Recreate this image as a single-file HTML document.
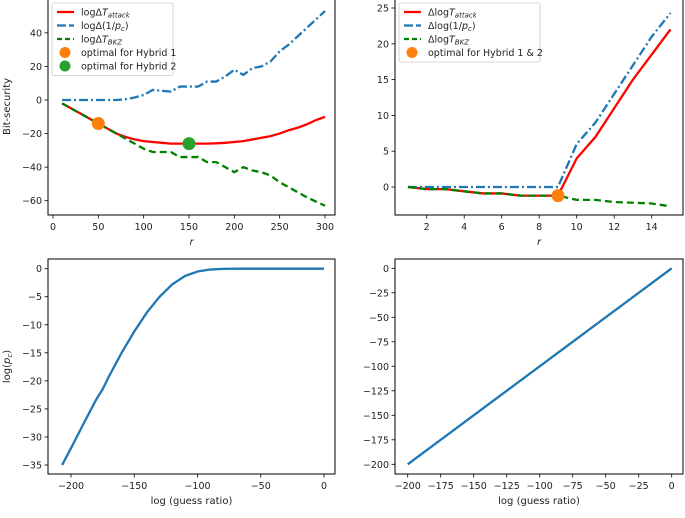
<!DOCTYPE html>
<html><head><meta charset="utf-8"><style>
body{margin:0;background:#fff;}
svg{font-family:"DejaVu Sans","Liberation Sans",sans-serif;}
</style></head><body>
<svg id="c" width="685" height="513" xmlns="http://www.w3.org/2000/svg"></svg>
<script>
const rA=[10,20,30,40,50,60,70,80,90,100,110,120,130,140,150,160,170,180,190,200,210,220,230,240,250,260,270,280,290,300];
const attackA=[-2,-5,-8,-11,-14,-17,-20,-22,-23.5,-24.5,-25,-25.5,-26,-26,-26,-26,-26,-25.8,-25.5,-25,-24.5,-23.5,-22.5,-21.5,-20,-18,-16.5,-14.5,-12,-10];
const pcA=[0,0,0,0,0,0,0,0.5,1.5,3,6,5.5,5,8,8,8,11,11,14,18,15,19,20,23,29,33,38,43,48,53];
const bkzA=[-2,-5,-8,-11,-14,-17,-20,-23,-26,-29,-31,-31,-31,-34,-34,-34,-37,-37,-40,-43,-40,-42,-43,-45,-49,-52,-55,-58,-60.5,-63];
const opt1=[50,-14], opt2=[150,-26];
const rB=[1,2,3,4,5,6,7,8,9,10,11,12,13,14,15];
const attackB=[0,-0.3,-0.3,-0.6,-0.9,-0.9,-1.2,-1.2,-1.2,4,7,11,15,18.5,22];
const pcB=[0,0,0,0,0,0,0,0,0,6,9,13,17,21,24.3];
const bkzB=[0,-0.3,-0.3,-0.6,-0.9,-0.9,-1.2,-1.2,-1.2,-1.8,-1.8,-2.1,-2.2,-2.3,-2.7];
const optB=[9,-1.2];
const gC=[-207,-200,-190,-180,-175,-170,-160,-150,-140,-130,-120,-110,-100,-90,-80,-70,-40,0];
const pC=[-35,-32,-27.6,-23.3,-21.5,-19.2,-15,-11.2,-7.8,-5,-2.8,-1.3,-0.5,-0.15,-0.03,0,0,0];
const gD=[-200,0];
const pD=[-200,0];
const ticksAx=[0,50,100,150,200,250,300], ticksAy=[40,20,0,-20,-40,-60];
const ticksBx=[2,4,6,8,10,12,14], ticksBy=[25,20,15,10,5,0];
const ticksCx=[-200,-150,-100,-50,0], ticksCy=[0,-5,-10,-15,-20,-25,-30,-35];
const ticksDx=[-200,-175,-150,-125,-100,-75,-50,-25,0], ticksDy=[0,-25,-50,-75,-100,-125,-150,-175,-200];

const svg=document.getElementById('c');const NS='http://www.w3.org/2000/svg';
function el(t,a,p){const e=document.createElementNS(NS,t);for(const k in a)e.setAttribute(k,a[k]);(p||svg).appendChild(e);return e;}
function lin(d0,d1,p0,p1){return v=>p0+(v-d0)*(p1-p0)/(d1-d0);}
function fmt(v){return v<0?'\u2212'+(-v):''+v;}
function axes(name,box,sx,sy,tx,ty,xl,yl){
  const g=el('g',{});
  tx.forEach(v=>{const x=sx(v);el('line',{x1:x,x2:x,y1:box[3],y2:box[3]+3.5,stroke:'#000','stroke-width':0.8},g);
    const t=el('text',{x:x,y:box[3]+15,'font-size':9.5,'text-anchor':'middle',fill:'#222'},g);t.textContent=fmt(v);
    });
  ty.forEach(v=>{const y=sy(v);el('line',{x1:box[0]-3.5,x2:box[0],y1:y,y2:y,stroke:'#000','stroke-width':0.8},g);
    const t=el('text',{x:box[0]-6,y:y+3.5,'font-size':9.5,'text-anchor':'end',fill:'#222'},g);t.textContent=fmt(v);
    });
  if(xl){const t=el('text',{x:(box[0]+box[2])/2,y:box[3]+30,'font-size':10,'text-anchor':'middle',fill:'#222'},g);t.innerHTML=xl;
    }
  if(yl){const cy=(box[1]+box[3])/2;const t=el('text',{x:0,y:0,'font-size':10,'text-anchor':'middle',fill:'#222',transform:`translate(10,${cy}) rotate(-90)`},g);t.innerHTML=yl;
    }
  return g;
}
function frame(box){const r=el('rect',{x:box[0],y:box[1],width:box[2]-box[0],height:box[3]-box[1],fill:'none',stroke:'#000','stroke-width':1});
  }
function line(xs,ys,sx,sy,col,dash,name){const p=el('polyline',{points:xs.map((x,i)=>sx(x)+','+sy(ys[i])).join(' '),fill:'none',stroke:col,'stroke-width':2.3,'stroke-dasharray':dash||'none'});
  }
function dot(pt,sx,sy,col,name){const c=el('circle',{cx:sx(pt[0]),cy:sy(pt[1]),r:6.5,fill:col});}
const RED='#f00',BLUE='#1f77b4',GREEN='#008000',ORANGE='#ff7f0e',GD='#2ca02c';
const DD='9,3,2,3',DS='7,4';
function legend(x,y,w,items){const g=el('g',{});
  el('rect',{x:x,y:y,width:w,height:items.length*13.5+5,fill:'#fff',stroke:'#ccc','stroke-width':0.8,rx:2},g);
  items.forEach((it,i)=>{const cy=y+9+i*13.5;
    if(it.dot)el('circle',{cx:x+13,cy:cy,r:5.5,fill:it.col},g);
    else el('line',{x1:x+5,x2:x+22,y1:cy,y2:cy,stroke:it.col,'stroke-width':2.3,'stroke-dasharray':it.dash||'none'},g);
    const t=el('text',{x:x+29,y:cy+3.5,'font-size':9.5,fill:'#222'},g);t.innerHTML=it.label;
    });}

// A
let box=[48,-2,335,215];
let sx=lin(0,300,53,325), sy=lin(0,-60,100,200.7);
axes('top-left-axes',box,sx,sy,ticksAx,ticksAy,'<tspan font-style="italic">r</tspan>','Bit-security');
line(rA,attackA,sx,sy,RED,null,'attack-line-a');line(rA,pcA,sx,sy,BLUE,DD,'pc-line-a');line(rA,bkzA,sx,sy,GREEN,DS,'bkz-line-a');
dot(opt1,sx,sy,ORANGE,'optimal-hybrid-1');dot(opt2,sx,sy,GD,'optimal-hybrid-2');frame(box);
legend(52,3,121,[{col:RED,label:'logΔ<tspan font-style="italic">T</tspan><tspan font-style="italic" font-size="7" dy="2">attack</tspan>'},
 {col:BLUE,dash:'9,3',label:'logΔ(1/<tspan font-style="italic">p</tspan><tspan font-style="italic" font-size="7" dy="2">c</tspan><tspan dy="-2">)</tspan>'},
 {col:GREEN,dash:'5,3',label:'logΔ<tspan font-style="italic">T</tspan><tspan font-style="italic" font-size="7" dy="2">BKZ</tspan>'},
 {col:ORANGE,dot:1,label:'optimal for Hybrid 1'},{col:GD,dot:1,label:'optimal for Hybrid 2'}]);
// B
box=[395,-2,683,215];
sx=lin(2,14,426.7,651.7); sy=lin(0,25,187,8);
axes('top-right-axes',box,sx,sy,ticksBx,ticksBy,'<tspan font-style="italic">r</tspan>',null);
line(rB,attackB,sx,sy,RED,null,'attack-line-b');line(rB,pcB,sx,sy,BLUE,DD,'pc-line-b');line(rB,bkzB,sx,sy,GREEN,DS,'bkz-line-b');
dot(optB,sx,sy,ORANGE,'optimal-hybrid-1-2');frame(box);
legend(399,3,141,[{col:RED,label:'Δlog<tspan font-style="italic">T</tspan><tspan font-style="italic" font-size="7" dy="2">attack</tspan>'},
 {col:BLUE,dash:'9,3',label:'Δlog(1/<tspan font-style="italic">p</tspan><tspan font-style="italic" font-size="7" dy="2">c</tspan><tspan dy="-2">)</tspan>'},
 {col:GREEN,dash:'5,3',label:'Δlog<tspan font-style="italic">T</tspan><tspan font-style="italic" font-size="7" dy="2">BKZ</tspan>'},
 {col:ORANGE,dot:1,label:'optimal for Hybrid 1 &amp; 2'}]);
// C
box=[48,259,335,474];
sx=lin(-200,0,71,324); sy=lin(0,-35,268.7,465);
axes('bottom-left-axes',box,sx,sy,ticksCx,ticksCy,'log (guess ratio)','log(<tspan font-style="italic">p</tspan><tspan font-style="italic" font-size="7" dy="2">c</tspan><tspan dy="-2">)</tspan>');
line(gC,pC,sx,sy,BLUE,null,'pc-curve');frame(box);
// D
box=[395,259,683,474];
sx=lin(-200,0,407.7,671.7); sy=lin(0,-200,268.3,464.3);
axes('bottom-right-axes',box,sx,sy,ticksDx,ticksDy,'log (guess ratio)',null);
line(gD,pD,sx,sy,BLUE,null,'linear-line');frame(box);
</script>
</body></html>
